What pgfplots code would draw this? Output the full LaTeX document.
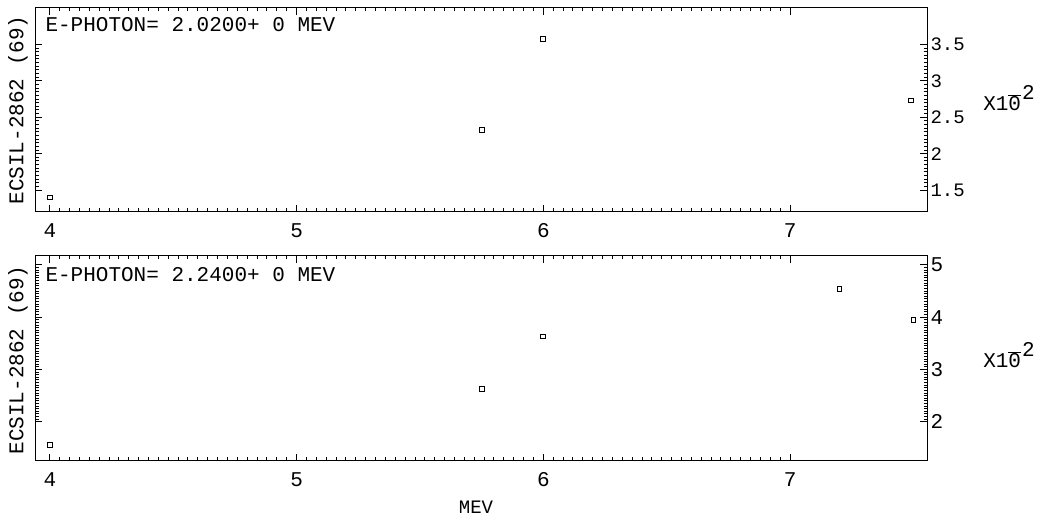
\documentclass[border=0pt]{standalone}
\usepackage{fontspec}
\setmainfont{Liberation Mono}
\usepackage{pgfplots}
\pgfplotsset{compat=1.18}
\newcommand{\plbig}{\fontsize{21bp}{25bp}\selectfont}
\newcommand{\plmid}{\fontsize{19bp}{23bp}\selectfont}
\newcommand{\xten}{X1$\overline{\mbox{0}}$\kern0.05em\raisebox{0.5em}{2}}
\pgfplotsset{
  plotter/.style={
    scale only axis, width=892bp,
    axis line style={line width=1bp},
    every tick/.style={line width=1bp, black},
    major tick length=7bp, minor tick length=3.5bp,
    xtick={4,5,6,7}, minor x tick num=24,
    tick pos=both,
    xticklabel pos=lower, yticklabel pos=right,
    scaled ticks=false,
    /pgf/number format/assume math mode=true,
    tick label style={font=\plbig},
    xticklabel style={yshift=-8bp},
    clip=false,
  }
}
\begin{document}
\begin{tikzpicture}[x=1bp,y=1bp]
\useasboundingbox (0,0) rectangle (1038,525);
\begin{axis}[plotter,
  at={(35bp,517bp)}, anchor=north west, height=204bp,
  xmin=3.94, xmax=7.555, ymin=1.2, ymax=4.0,
  ytick={1.5,2,2.5,3,3.5}, minor y tick num=9,
  yticklabel style={font=\plmid},
]
\addplot[only marks, mark=square, mark size=2.4bp, line width=0.9bp, black] coordinates {
(4.0,1.40) (5.75,2.33) (6.0,3.57) (7.49,2.73)};
\end{axis}
\begin{axis}[plotter,
  at={(35bp,269bp)}, anchor=north west, height=205bp,
  xmin=3.94, xmax=7.555, ymin=1.25, ymax=5.17,
  ytick={2,3,4,5}, minor y tick num=19,
]
\addplot[only marks, mark=square, mark size=2.4bp, line width=0.9bp, black] coordinates {
(4.0,1.56) (5.75,2.63) (6.0,3.63) (7.2,4.54) (7.5,3.94)};
\end{axis}
\node[anchor=west,font=\plbig] at (42,500) {E-PHOTON= 2.0200+ 0 MEV};
\node[anchor=west,font=\plbig] at (42,250) {E-PHOTON= 2.2400+ 0 MEV};
\node[rotate=90,font=\plbig] at (18,415) {ECSIL-2862 (69)};
\node[rotate=90,font=\plbig] at (18,165) {ECSIL-2862 (69)};
\node[font=\plbig] at (1009,427) {\xten};
\node[font=\plbig] at (1009,170) {\xten};
\node[font=\plmid] at (476,18) {MEV};
\end{tikzpicture}
\end{document}
